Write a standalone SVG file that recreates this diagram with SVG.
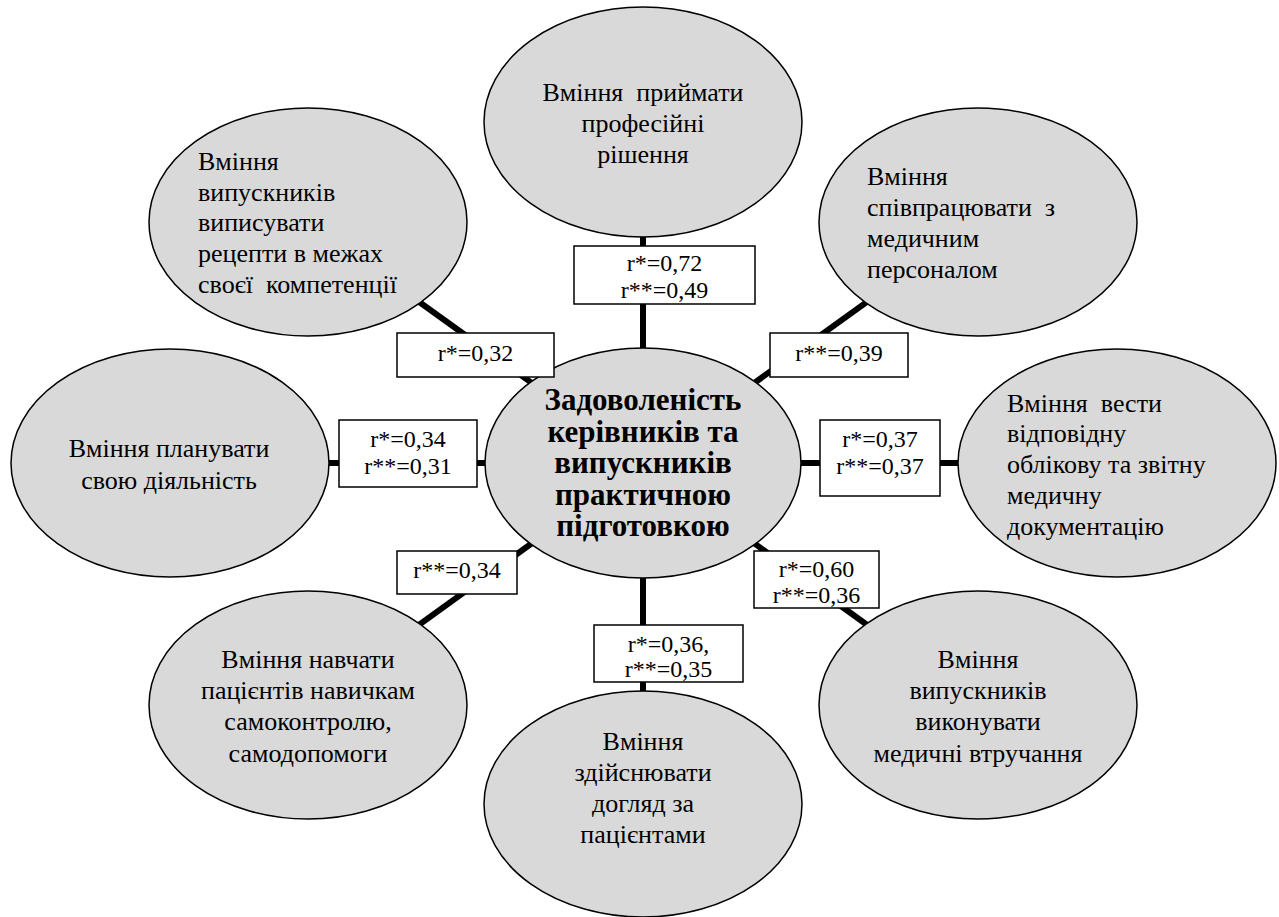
<svg xmlns="http://www.w3.org/2000/svg" width="1279" height="917" viewBox="0 0 1279 917">
<style>
.bg{fill:#ffffff}
.conn{stroke:#000;stroke-width:6;fill:none}
.ell{fill:#d9d9d9;stroke:#000;stroke-width:1.5}
.box{fill:#fff;stroke:#000;stroke-width:1.5}
.t{font-family:"Liberation Serif","Times New Roman",serif;font-size:26px;fill:#000;white-space:pre}
.c{text-anchor:middle}
.b{font-family:"Liberation Serif","Times New Roman",serif;font-size:31px;font-weight:bold;fill:#000;text-anchor:middle}
.r{font-family:"Liberation Serif","Times New Roman",serif;font-size:24px;fill:#000;text-anchor:middle}
</style>
<rect class="bg" x="0" y="0" width="1279" height="917"/>
<g id="connectors">
<line class="conn" x1="643" y1="122" x2="643" y2="463"/>
<line class="conn" x1="643" y1="804" x2="643" y2="463"/>
<line class="conn" x1="170" y1="463" x2="643" y2="463"/>
<line class="conn" x1="1117" y1="463" x2="643" y2="463"/>
<line class="conn" x1="308" y1="222" x2="643" y2="463"/>
<line class="conn" x1="978" y1="222" x2="643" y2="463"/>
<line class="conn" x1="308" y1="705" x2="643" y2="463"/>
<line class="conn" x1="978" y1="705" x2="643" y2="463"/>
</g>
<g id="node-top">
<ellipse class="ell" cx="643" cy="122" rx="159" ry="115"/>
<text class="t c" x="643" y="101">Вміння  приймати</text>
<text class="t c" x="643" y="132">професійні</text>
<text class="t c" x="643" y="163">рішення</text>
</g>
<g id="node-top-left">
<ellipse class="ell" cx="308" cy="222" rx="159" ry="114"/>
<text class="t" x="198" y="170">Вміння</text>
<text class="t" x="198" y="201">випускників</text>
<text class="t" x="198" y="231">виписувати</text>
<text class="t" x="198" y="262">рецепти в межах</text>
<text class="t" x="198" y="293">своєї  компетенції</text>
</g>
<g id="node-top-right">
<ellipse class="ell" cx="978" cy="222" rx="159" ry="114"/>
<text class="t" x="867" y="185">Вміння</text>
<text class="t" x="867" y="216">співпрацювати  з</text>
<text class="t" x="867" y="247">медичним</text>
<text class="t" x="867" y="278">персоналом</text>
</g>
<g id="node-left">
<ellipse class="ell" cx="170" cy="463" rx="159" ry="114"/>
<text class="t c" x="169" y="457">Вміння планувати</text>
<text class="t c" x="169" y="489">свою діяльність</text>
</g>
<g id="node-right">
<ellipse class="ell" cx="1117" cy="463" rx="159" ry="114"/>
<text class="t" x="1007" y="412">Вміння  вести</text>
<text class="t" x="1007" y="442">відповідну</text>
<text class="t" x="1007" y="473">облікову та звітну</text>
<text class="t" x="1007" y="504">медичну</text>
<text class="t" x="1007" y="535">документацію</text>
</g>
<g id="node-bottom-left">
<ellipse class="ell" cx="308" cy="705" rx="159" ry="114"/>
<text class="t c" x="308" y="668">Вміння навчати</text>
<text class="t c" x="308" y="699">пацієнтів навичкам</text>
<text class="t c" x="308" y="730">самоконтролю,</text>
<text class="t c" x="308" y="762">самодопомоги</text>
</g>
<g id="node-bottom">
<ellipse class="ell" cx="643" cy="804" rx="159" ry="113"/>
<text class="t c" x="643" y="750">Вміння</text>
<text class="t c" x="643" y="781">здійснювати</text>
<text class="t c" x="643" y="812">догляд за</text>
<text class="t c" x="643" y="843">пацієнтами</text>
</g>
<g id="node-bottom-right">
<ellipse class="ell" cx="978" cy="705" rx="159" ry="114"/>
<text class="t c" x="978" y="668">Вміння</text>
<text class="t c" x="978" y="699">випускників</text>
<text class="t c" x="978" y="730">виконувати</text>
<text class="t c" x="978" y="762">медичні втручання</text>
</g>
<g id="node-center">
<ellipse class="ell" cx="643" cy="463" rx="158" ry="115"/>
<text class="b" x="643" y="410">Задоволеність</text>
<text class="b" x="643" y="442">керівників та</text>
<text class="b" x="643" y="473">випускників</text>
<text class="b" x="643" y="505">практичною</text>
<text class="b" x="643" y="536">підготовкою</text>
</g>
<g id="labels">
<g id="label-top">
<rect class="box" x="574" y="246" width="181" height="58"/>
<text class="r" x="664.5" y="271">r*=0,72</text>
<text class="r" x="664.5" y="298">r**=0,49</text>
</g>
<g id="label-top-left">
<rect class="box" x="397" y="333" width="157" height="44"/>
<text class="r" x="475.5" y="361">r*=0,32</text>
</g>
<g id="label-top-right">
<rect class="box" x="770" y="333" width="138" height="44"/>
<text class="r" x="839" y="361">r**=0,39</text>
</g>
<g id="label-left">
<rect class="box" x="339" y="420" width="138" height="67"/>
<text class="r" x="408" y="447">r*=0,34</text>
<text class="r" x="408" y="474">r**=0,31</text>
</g>
<g id="label-right">
<rect class="box" x="820" y="420" width="120" height="76"/>
<text class="r" x="880" y="447">r*=0,37</text>
<text class="r" x="880" y="474">r**=0,37</text>
</g>
<g id="label-bottom-left">
<rect class="box" x="397" y="551" width="120" height="43"/>
<text class="r" x="457" y="578">r**=0,34</text>
</g>
<g id="label-bottom-right">
<rect class="box" x="754" y="551" width="125" height="57"/>
<text class="r" x="816.5" y="577">r*=0,60</text>
<text class="r" x="816.5" y="603">r**=0,36</text>
</g>
<g id="label-bottom">
<rect class="box" x="594" y="625" width="149" height="57"/>
<text class="r" x="668.5" y="652">r*=0,36,</text>
<text class="r" x="668.5" y="677">r**=0,35</text>
</g>
</g>
</svg>
